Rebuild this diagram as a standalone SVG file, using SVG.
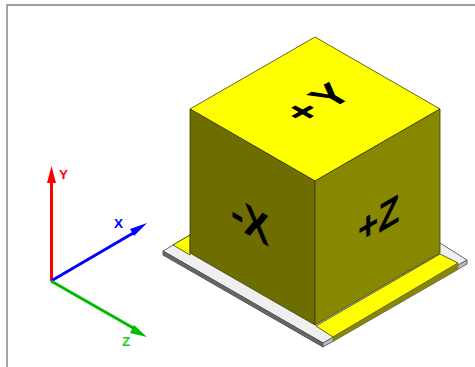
<svg xmlns="http://www.w3.org/2000/svg" width="475" height="367" viewBox="0 0 475 367">
<style>
.e{stroke:#3a3a10;stroke-width:.8;stroke-linejoin:round}
.t{font-family:"Liberation Sans",Arial,sans-serif;font-weight:bold;font-size:13.5px}
.f{font-family:"Liberation Sans",Arial,sans-serif;font-weight:bold;fill:#000}
</style>
<rect width="475" height="367" fill="#fff"/>
<path d="M7 367V5H475" fill="none" stroke="#808080" stroke-width="1.4"/>
<g id="plate">
<path d="M163 251L190 235L440 243L467 260L323 343Z" fill="#efefef" stroke="#666" stroke-width="1"/>
<path d="M163 251V255L323 347V343Z" fill="#666" stroke="#555" stroke-width="1"/>
<path d="M323 343V347L467 264V260Z" fill="#bbb" stroke="#666" stroke-width="1"/>
<path d="M173 245L190 235V255ZM316 326L440 254L458 263L333 337Z" fill="#ff0" class="e"/>
<path d="M333 337V341.500L458 269.500V263Z" fill="#878700" stroke="#666" stroke-width=".5"/>
</g>
<g id="cube">
<path d="M315 37L440 109L315 181L190 109Z" fill="#ff0" class="e"/>
<path d="M190 109L315 181V325L190 253Z" fill="#6e6e00" class="e"/>
<path d="M440 109L315 181V325L440 253Z" fill="#878700" class="e"/>
<text class="f" font-size="42" letter-spacing="6" transform="matrix(.87 -.5 .87 .5 304 125)">+Y</text>
<text class="f" font-size="44" transform="matrix(.87 .5 0 1 231 225)">-X</text>
<text class="f" font-size="40" transform="matrix(.87 -.5 0 1 358 245)">+Z</text>
</g>
<g id="axes">
<path d="M51.5 281V178" stroke="#f00" stroke-width="3" fill="none"/>
<path d="M51.5 166L56 183H47Z" fill="#f00"/>
<path d="M51 281L135 232" stroke="#00f" stroke-width="3" fill="none"/>
<path d="M147 223L134 236L130 229Z" fill="#00f"/>
<path d="M51 281L135 329" stroke="#0b0" stroke-width="3" fill="none"/>
<path d="M147 337L130 333L134 325Z" fill="#0b0"/>
<text class="t" x="59" y="179" fill="#f00">Y</text>
<text class="t" x="114" y="227.500" fill="#00f">X</text>
<text class="t" x="122" y="346" fill="#2c2">Z</text>
</g>
</svg>
